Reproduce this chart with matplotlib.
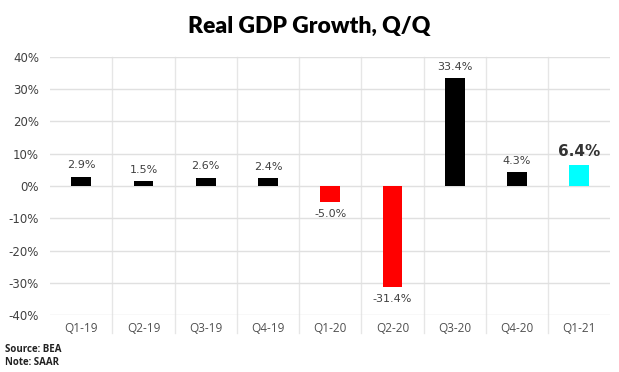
import matplotlib
matplotlib.use("Agg")
import matplotlib.pyplot as plt
import numpy as np

quarters = ["Q1-19", "Q2-19", "Q3-19", "Q4-19", "Q1-20", "Q2-20", "Q3-20", "Q4-20", "Q1-21"]
growth = [2.9, 1.5, 2.6, 2.4, -5.0, -31.4, 33.4, 4.3, 6.4]
bar_colors = ["black", "black", "black", "black", "red", "red", "black", "black", "#00FFFF"]
yticks = [-40, -30, -20, -10, 0, 10, 20, 30, 40]

fig = plt.figure(figsize=(6.19, 3.72), dpi=100)
ax = fig.add_axes([0.081, 0.153, 0.905, 0.694])

x = np.arange(len(quarters))
ax.bar(x, growth, width=0.32, color=bar_colors, zorder=3)

ax.set_xlim(-0.5, len(quarters) - 0.5)
ax.set_ylim(-40, 40)
ax.set_yticks(yticks)
ax.set_yticklabels([f"{t}%" for t in yticks], family="DejaVu Sans", fontsize=8.5, color="#404040")
ax.set_xticks(x)
ax.set_xticklabels(quarters, family="Open Sans", fontsize=8.5, color="#505050")
ax.tick_params(axis="both", length=0, pad=8)
ax.tick_params(axis="x", pad=5)

for s in ax.spines.values():
    s.set_visible(False)
ax.yaxis.grid(True, color="#e0e0e0", linewidth=1, zorder=0)

# category separators, running down past the tick labels
for b in np.arange(0.5, len(quarters) - 0.5, 1.0):
    ax.plot([b, b], [1, -0.07], transform=ax.get_xaxis_transform(),
            color="#e6e6e6", linewidth=1, clip_on=False, zorder=0)

for i, v in enumerate(growth):
    if i == len(growth) - 1:
        ax.text(i, v + 2, f"{v:.1f}%", ha="center", va="bottom", fontsize=11,
                fontweight="bold", color="#333333", family="DejaVu Sans")
    elif v >= 0:
        ax.text(i, v + 2, f"{v:.1f}%", ha="center", va="bottom", fontsize=8,
                color="#404040", family="DejaVu Sans")
    else:
        ax.text(i, v - 2, f"{v:.1f}%", ha="center", va="top", fontsize=8,
                color="#404040", family="DejaVu Sans")

fig.text(0.5, 0.93, "Real GDP Growth, Q/Q", ha="center", va="center",
         fontsize=16.5, fontweight="heavy", family="Lato", color="black")
fig.text(0.008, 0.06, "Source: BEA", fontsize=7, family="Open Sans",
         fontweight="bold", color="#222222", va="center")
fig.text(0.008, 0.025, "Note: SAAR", fontsize=7, family="Open Sans",
         fontweight="bold", color="#222222", va="center")

fig.savefig("out.png", dpi=100)
